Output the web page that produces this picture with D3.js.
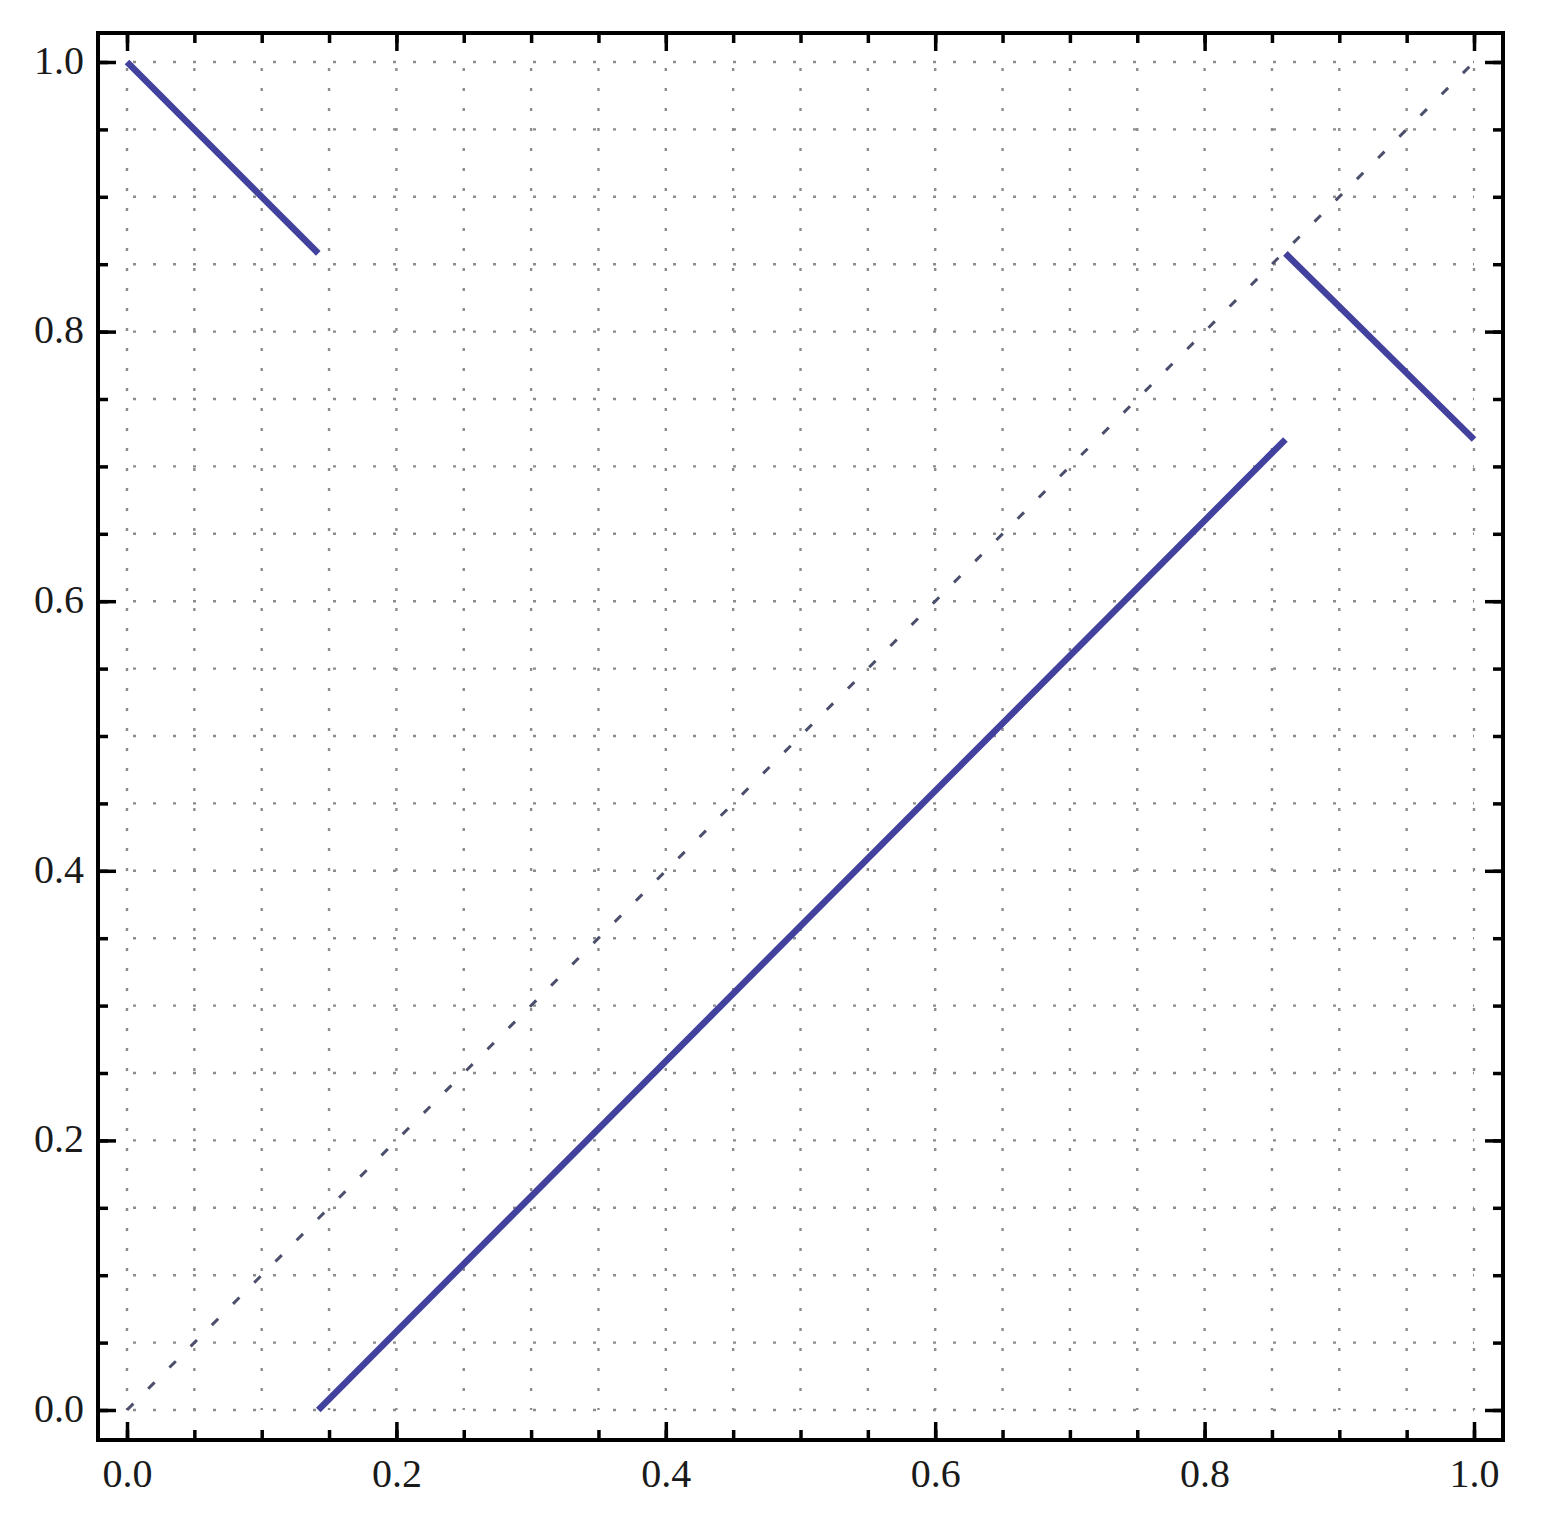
<!DOCTYPE html>
<html>
<head>
<meta charset="utf-8">
<title>Piecewise map</title>
<style>
  body { margin: 0; background: #fff; }
  svg { display: block; }
  .tick text { font-family: "Liberation Serif", "Times New Roman", serif; font-size: 40px; fill: #1a1a1a; }
</style>
</head>
<body>
<svg width="1542" height="1514"></svg>
<script src="https://d3js.org/d3.v7.min.js"></script>
<script>
// data
var leftBranch   = [[0, 1], [0.142, 0.858]];
var middleBranch = [[0.142, 0], [0.86, 0.72]];
var rightBranch  = [[0.86, 0.858], [1, 0.72]];
var diagonal     = [[0, 0], [1, 1]];

var majorTicks = [0, 0.2, 0.4, 0.6, 0.8, 1.0];
var minorTicks = [0, 0.05, 0.1, 0.15, 0.2, 0.25, 0.3, 0.35, 0.4, 0.45, 0.5,
                  0.55, 0.6, 0.65, 0.7, 0.75, 0.8, 0.85, 0.9, 0.95, 1.0];
var tickLabels = ["0.0", "0.2", "0.4", "0.6", "0.8", "1.0"];

var svg = d3.select("svg");

var frame = {left: 98, right: 1503, top: 33, bottom: 1440};

var x = d3.scaleLinear().domain([0, 1]).range([127, 1474]);
var y = d3.scaleLinear().domain([0, 1]).range([1410, 62]);

// dotted grid
var grid = svg.append("g")
    .attr("stroke", "#8c8c8c")
    .attr("stroke-width", 2.4)
    .attr("stroke-dasharray", "3,17");

grid.selectAll("line.v")
    .data(minorTicks)
    .enter().append("line")
    .attr("class", "v")
    .attr("x1", function (d) { return x(d); })
    .attr("x2", function (d) { return x(d); })
    .attr("y1", y(1) + 6)
    .attr("y2", y(0));

grid.selectAll("line.h")
    .data(minorTicks)
    .enter().append("line")
    .attr("class", "h")
    .attr("y1", function (d) { return y(d); })
    .attr("y2", function (d) { return y(d); })
    .attr("x1", x(0) + 6)
    .attr("x2", x(1));

// dashed reference diagonal
var line = d3.line()
    .x(function (d) { return x(d[0]); })
    .y(function (d) { return y(d[1]); });

svg.append("path")
    .datum(diagonal)
    .attr("d", line)
    .attr("fill", "none")
    .attr("stroke", "#4c4f6c")
    .attr("stroke-width", 3)
    .attr("stroke-dasharray", "9,21");

// the map itself
svg.append("g")
    .selectAll("path")
    .data([leftBranch, middleBranch, rightBranch])
    .enter().append("path")
    .attr("d", line)
    .attr("fill", "none")
    .attr("stroke", "#43419e")
    .attr("stroke-width", 6.5);

// ticks on all four sides, pointing inward
function ticks(axis, scale, pos, vals, len, labels) {
    var a = axis(scale).tickValues(vals).tickSizeInner(-len).tickSizeOuter(0);
    if (labels) {
        a.tickFormat(function (d, i) { return labels[i]; }).tickPadding(len + 22);
    } else {
        a.tickFormat("");
    }
    var g = svg.append("g").attr("transform", pos).call(a);
    g.select(".domain").remove();
    g.selectAll(".tick line").attr("stroke", "#000").attr("stroke-width", 3.5);
    return g;
}

ticks(d3.axisBottom, x, "translate(0," + frame.bottom + ")", minorTicks, 10);
ticks(d3.axisTop, x, "translate(0," + frame.top + ")", minorTicks, 10);
ticks(d3.axisLeft, y, "translate(" + frame.left + ",0)", minorTicks, 10);
ticks(d3.axisRight, y, "translate(" + frame.right + ",0)", minorTicks, 10);

var bottom = ticks(d3.axisBottom, x, "translate(0," + frame.bottom + ")", majorTicks, 18, tickLabels);
bottom.selectAll(".tick text").attr("dy", "0.72em").attr("y", 18);
ticks(d3.axisTop, x, "translate(0," + frame.top + ")", majorTicks, 18);
var left = ticks(d3.axisLeft, y, "translate(" + frame.left + ",0)", majorTicks, 18, tickLabels);
left.selectAll(".tick text").attr("x", -14).attr("dy", "0.28em");
ticks(d3.axisRight, y, "translate(" + frame.right + ",0)", majorTicks, 18);

svg.selectAll(".tick text").attr("fill", "#1a1a1a");

// frame
svg.append("rect")
    .attr("x", frame.left)
    .attr("y", frame.top)
    .attr("width", frame.right - frame.left)
    .attr("height", frame.bottom - frame.top)
    .attr("fill", "none")
    .attr("stroke", "#000")
    .attr("stroke-width", 4);
</script>
</body>
</html>
